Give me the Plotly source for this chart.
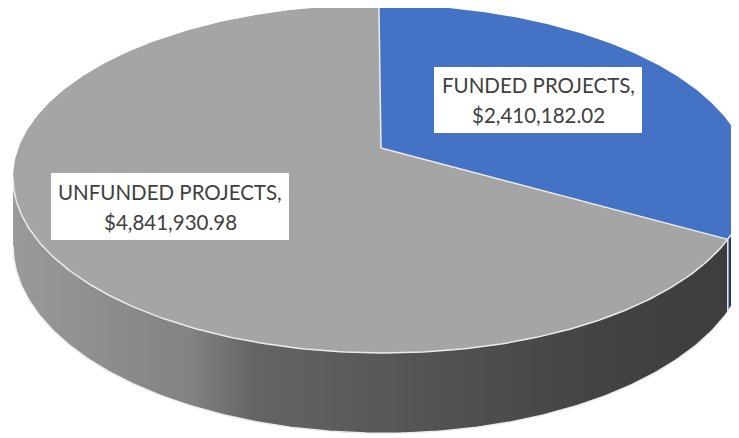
import math
import plotly.graph_objects as go

# ---- data ----
categories = ["FUNDED PROJECTS", "UNFUNDED PROJECTS"]
values = [2410182.02, 4841930.98]

# ---- style / layout constants ----
W, H = 739, 438
OFF = 8                 # page body margin offset
CX, CY = 381, 148      # pie centre on screen
R, RY = 362.5, 168.5    # radii
K = 0.178               # perspective factor
CAM = -0.0385           # horizontal camera offset
H0 = 66                 # thickness
top_colors = ["#4472c4", "#a5a5a5"]
side_colors = ["#1f3a75", None]
side_gray_scale = [[0, "#9a9a9a"], [0.25, "#828282"], [0.34, "#646464"],
                   [0.6, "#525252"], [0.8, "#444444"], [1, "#3d3d3d"]]
edge_col = "#ececec"
label_boxes = [  # (x0, y0, x1, y1) of white label boxes
    (434, 67, 642, 133),
    (51, 173, 289, 240),
]
FONT = "Lato"
FSIZE = 20.5


def proj(theta_deg, drop=0.0):
    t = math.radians(theta_deg)
    X, Z = math.sin(t), math.cos(t)
    s = 1.0 / (1.0 + K * Z)
    return CX + R * ((X - CAM) * s + CAM), CY - RY * Z * s + drop * H0 * s


def arc(a0, a1, drop=0.0, n=240):
    xs, ys = [], []
    for i in range(n + 1):
        x, y = proj(a0 + (a1 - a0) * i / n, drop)
        xs.append(x)
        ys.append(y)
    return xs, ys


total = sum(values)
angles = [0.0]
for v in values:
    angles.append(angles[-1] + 360.0 * v / total)

# silhouette angles (numerical extreme of x)
samples = [i / 20.0 for i in range(0, 7201)]
xs_all = [proj(a)[0] for a in samples]
ext = samples[max(range(len(samples)), key=lambda i: xs_all[i])]
ext_l = samples[min(range(len(samples)), key=lambda i: xs_all[i])]

fig = go.Figure()

# ---- side walls ----
for i in range(len(values)):
    a0 = max(angles[i], ext)
    a1 = min(angles[i + 1], ext_l)
    if a1 <= a0:
        continue
    tx, ty = arc(a0, a1)
    bx, by = arc(a1, a0, drop=1.0)
    xs = tx + bx + [tx[0]]
    ys = ty + by + [ty[0]]
    if side_colors[i]:
        fig.add_trace(go.Scatter(x=xs, y=ys, mode="lines", fill="toself",
                                 fillcolor=side_colors[i],
                                 line=dict(width=0), hoverinfo="skip"))
    else:
        fig.add_trace(go.Scatter(x=xs, y=ys, mode="lines", fill="toself",
                                 fillgradient=dict(type="horizontal",
                                                   colorscale=side_gray_scale),
                                 line=dict(width=0), hoverinfo="skip"))

# slice boundary on the side
bx0, by0 = proj(angles[1])
bx1, by1 = proj(angles[1], drop=1.0)
fig.add_trace(go.Scatter(x=[bx0, bx1], y=[by0, by1], mode="lines",
                         line=dict(color=edge_col, width=1.5), hoverinfo="skip"))
# bottom silhouette
sx, sy = arc(ext, ext_l, drop=1.0)
fig.add_trace(go.Scatter(x=sx, y=sy, mode="lines",
                         line=dict(color=edge_col, width=1.5), hoverinfo="skip"))

# ---- top faces ----
for i in range(len(values)):
    ax, ay = arc(angles[i], angles[i + 1])
    xs = [CX] + ax + [CX]
    ys = [CY] + ay + [CY]
    fig.add_trace(go.Scatter(x=xs, y=ys, mode="lines", fill="toself",
                             fillcolor=top_colors[i],
                             line=dict(width=0), hoverinfo="skip"))

# edges on top
for a in angles[:-1]:
    ex, ey = proj(a)
    fig.add_trace(go.Scatter(x=[CX, ex], y=[CY, ey], mode="lines",
                             line=dict(color=edge_col, width=1.5), hoverinfo="skip"))
fx, fy = arc(ext, ext_l)
fig.add_trace(go.Scatter(x=fx, y=fy, mode="lines",
                         line=dict(color=edge_col, width=1.5), hoverinfo="skip"))

# ---- labels ----
shapes, annotations = [], []
for cat, val, (x0, y0, x1, y1) in zip(categories, values, label_boxes):
    shapes.append(dict(type="rect", xref="x", yref="y", x0=x0, y0=y0, x1=x1, y1=y1,
                       fillcolor="white", line=dict(width=0), layer="above"))
    lines = [cat + ",", "${:,.2f}".format(val)]
    xm = (x0 + x1) / 2
    ym = (y0 + y1) / 2
    for j, txt in enumerate(lines):
        annotations.append(dict(x=xm, y=ym + (j - 0.5) * 30, xref="x", yref="y",
                                text=txt, showarrow=False,
                                font=dict(family=FONT, size=FSIZE, color="#404040")))

fig.update_layout(
    width=W, height=H, autosize=False,
    margin=dict(l=0, r=0, t=0, b=0),
    paper_bgcolor="white", plot_bgcolor="white",
    showlegend=False,
    xaxis=dict(range=[OFF, W + OFF], visible=False, fixedrange=True),
    yaxis=dict(range=[H + OFF, OFF], visible=False, fixedrange=True),
    shapes=shapes, annotations=annotations,
)

fig.write_html("out.html")
